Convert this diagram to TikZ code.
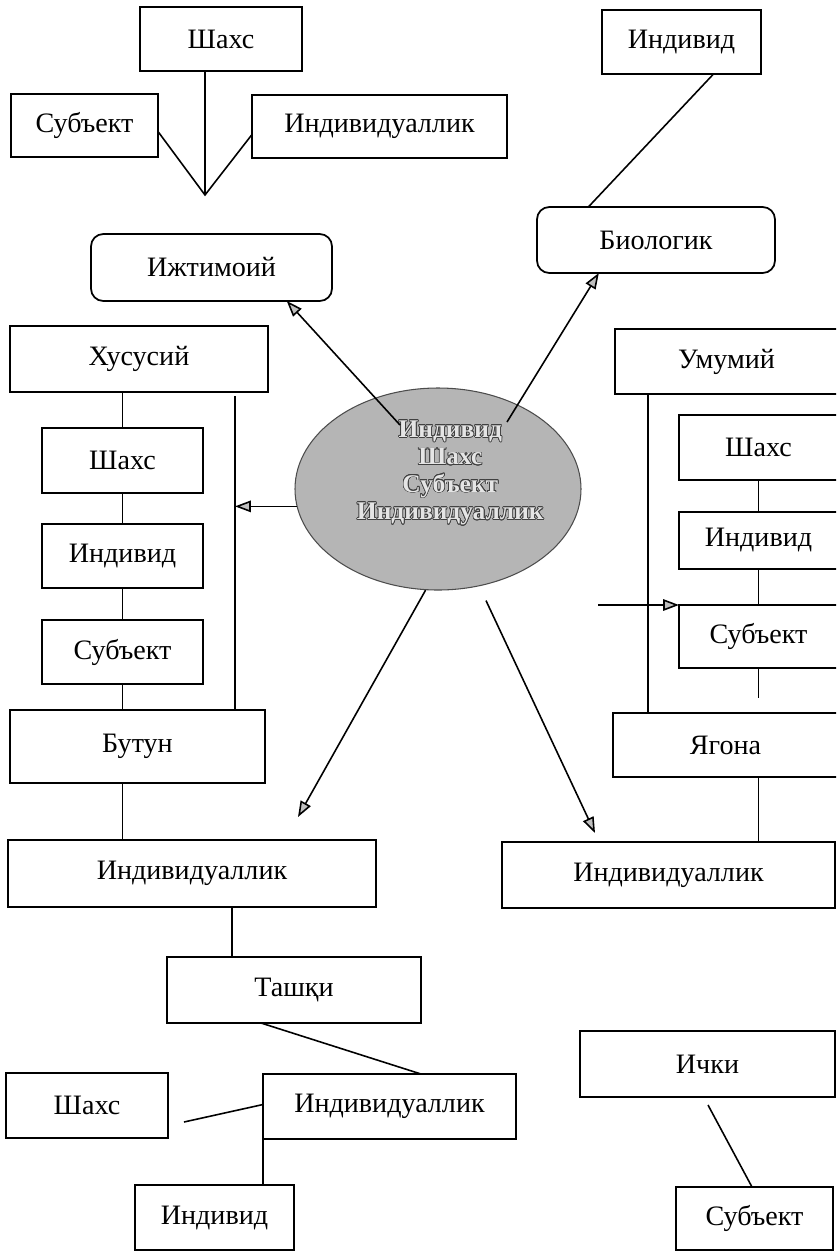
\documentclass[tikz,border=0pt]{standalone}
\usepackage{fontspec}
\setmainfont{Liberation Serif}
\usepackage{xcolor}
\usepackage{contour}
\usepackage{tikz}
\usetikzlibrary{arrows.meta,positioning,calc,shapes.geometric}
\contourlength{0.4pt}
\newcommand{\boxfont}{\fontsize{16}{18}\selectfont}
\newcommand{\ovalfont}{\fontsize{14.5}{15.6}\selectfont\bfseries}
\newcommand{\ovline}[1]{\contour{black!75}{\textcolor{gray!20}{#1}}}
\tikzset{
  box/.style 2 args={
    rectangle, draw, line width=1pt,
    minimum width=#1*0.02cm, minimum height=#2*0.02cm,
    inner sep=0pt, outer sep=0pt, font=\boxfont,
  },
  rbox/.style 2 args={box={#1}{#2}, rounded corners=7pt},
  oval/.style={
    ellipse, draw=gray!60!black, fill=gray!58, line width=0.6pt,
    minimum width=286*0.02cm, minimum height=202*0.02cm, inner sep=0pt,
  },
  elltext/.style={align=center, font=\ovalfont, inner sep=0pt},
  link/.style={line width=0.9pt},
  arr/.style={-{Triangle[length=9pt,width=6.5pt,fill=gray!50]}, line width=0.9pt},
}

\begin{document}
\begin{tikzpicture}[x=0.02cm, y=-0.02cm]
\useasboundingbox (0,0) rectangle (836,1252);
\clip (0,0) rectangle (836,1252);

% ===== Top =====
\node[box={162}{64}] (shT) at (221,39) {Шахс};
\node[box={147}{63}] (subT) at (84.5,125.5) {Субъект};
\node[box={255}{63}] (indlT) at (379.5,126.5) {Индивидуаллик};
\coordinate (jn) at (205,195);
\draw[link] (jn |- shT.south) -- (jn);
\draw[link] ($(subT.east)+(0,6)$) -- (jn) -- ($(indlT.west)+(0,8)$);

\node[rbox={241}{67}] (ijt) at (211.5,267.5) {Ижтимоий};
\node[box={159}{64}] (indT) at (681.5,42) {Индивид};
\node[rbox={238}{66}] (bio) at (656,240) {Биологик};
\draw[link] (indT.-45) -- (bio.154);

% ===== Centre =====
\node[oval] (ell) at (438,489) {};
\node[elltext, xshift=7pt, yshift=9pt] (elltxt) at (ell.center)
  {\ovline{Индивид}\\ \ovline{Шахс}\\ \ovline{Субъект}\\ \ovline{Индивидуаллик}};

\coordinate (a1) at (400,425);
\coordinate (a2) at (507,422);
\coordinate (a3) at (298,817);
\coordinate (a4) at (595,833);
\draw[arr] (a1) -- (ijt.-24);
\draw[arr] (a2) -- (bio.-150);
\draw[arr] (ell.263) -- (a3);
\draw[arr, shorten <=9pt] (ell.-67) -- (a4);

% ===== Left column =====
\node[box={258}{66}] (xus) at (139,359) {Хусусий};
\node[box={161}{65}] (shL) at (122.5,460.5) {Шахс};
\node[box={161}{64}] (indL) at (122.5,556) {Индивид};
\node[box={161}{64}] (subL) at (122.5,652) {Субъект};
\node[box={255}{73}] (but) at (137.5,746.5) {Бутун};
\node[box={368}{67}] (indlL) at (192,873.5) {Индивидуаллик};

\draw[link] (shL.north |- xus.south) -- (shL.north);
\draw[link] (shL) -- (indL);
\draw[link] (indL) -- (subL);
\draw[link] (subL) -- (subL |- but.north);
\draw[link] (but.south -| subL) -- (indlL.north -| subL);

\coordinate (vl) at (235,396);
\draw[link] (vl) -- (vl |- but.north);
\draw[arr] (ell.187) -- (ell.187 -| vl);

% ===== Right column =====
\node[box={223}{65}] (umu) at (726.5,361.5) {Умумий};
\node[box={159}{65}] (shR) at (758.5,447.5) {Шахс};
\node[box={159}{57}] (indR) at (758.5,540.5) {Индивид};
\node[box={159}{63}] (subR) at (758.5,636.5) {Субъект};
\node[box={225}{64}] (yag) at (725.5,745) {Ягона};
\node[box={333}{66}] (indlR) at (668.5,875) {Индивидуаллик};

\draw[link] ($(umu.south west)+(33,0)$) -- ($(yag.north west)+(35,0)$);
\draw[link] (shR) -- (indR);
\draw[link] (indR) -- (subR);
\coordinate (rtail) at (758.5,698);
\draw[link] (subR) -- (rtail);
\draw[link] (yag.south -| shR) -- (indlR.north -| shR);

\coordinate (a5) at (598,605);
\draw[arr] (a5) -- (subR.north west);

% ===== Bottom =====
\node[box={254}{66}] (tash) at (294,990) {Ташқи};
\node[box={253}{65}] (indlB) at (389.5,1106.5) {Индивидуаллик};
\node[box={162}{65}] (shB) at (87,1105.5) {Шахс};
\node[box={159}{65}] (indB) at (214.5,1217.5) {Индивид};
\node[box={255}{66}] (ich) at (707.5,1064) {Ички};
\node[box={157}{63}] (subBR) at (754.5,1218.5) {Субъект};

\coordinate (tl) at (232,0);
\draw[link] (tl |- indlL.south) -- (tl |- tash.north);
\draw[link] ($(tash.south west)+(94,0)$) -- ($(indlB.north)+(31.5,0)$);
\draw[link] ($(shB.east)+(16,16.5)$) -- ($(indlB.west)+(0,-2)$);
\draw[link] (indlB.south west) -- (indlB.south west |- indB.north);
\draw[link] ($(ich.south)+(0.5,8)$) -- ($(subBR.north)+(-2.5,0)$);

\end{tikzpicture}
\end{document}
